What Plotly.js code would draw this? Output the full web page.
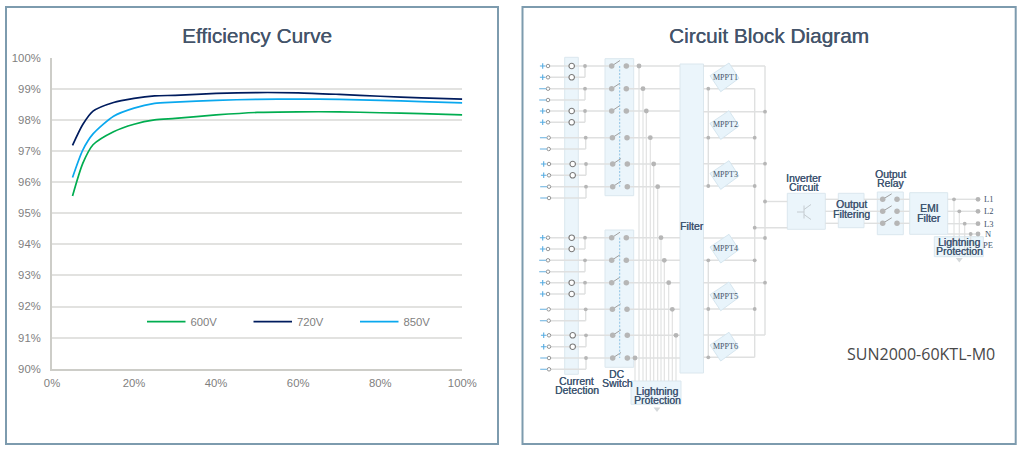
<!DOCTYPE html>
<html>
<head>
<meta charset="utf-8">
<script src="https://cdn.plot.ly/plotly-3.0.1.min.js"></script>
<style>html,body{margin:0;padding:0;background:#fff}#c{width:1022px;height:449px}</style>
</head>
<body>
<div id="c"></div>
<script>
// ---------- Efficiency curve data ----------
const loadPct = [5, 7.5, 10, 15, 20, 25, 30, 40, 50, 60, 70, 80, 90, 100];
const v600 = [95.55, 96.6, 97.2, 97.62, 97.86, 98.0, 98.05, 98.16, 98.24, 98.26, 98.26, 98.23, 98.2, 98.16];
const v720 = [97.18, 97.85, 98.28, 98.56, 98.69, 98.77, 98.79, 98.85, 98.88, 98.87, 98.82, 98.76, 98.71, 98.67];
const v850 = [96.15, 97.03, 97.55, 98.12, 98.38, 98.53, 98.57, 98.63, 98.66, 98.67, 98.66, 98.63, 98.59, 98.55];
const seriesNames = ['600V', '720V', '850V'];
const seriesColors = ['#00ad50', '#001c5e', '#0aa8ee'];
const xTickVals = [0, 20, 40, 60, 80, 100];
const xTickText = ['0%', '20%', '40%', '60%', '80%', '100%'];
const panelTitles = ['Efficiency Curve', 'Circuit Block Diagram'];
const modelName = 'SUN2000-60KTL-M0';

// ---------- Circuit diagram layout (page pixel space) ----------
const W = 1022, H = 449;
const rowY = [66,77.3,88.7,100,111,122.3,137.7,149,164,175.3,186.7,198,
              237.7,249,260.3,271.7,282.7,294,309.3,320.7,335.3,346.7,358,369.3];
const rowDx = [0,0,0,0,0,0,.7,.7,1,1,1,1, 0,0,0,0,0,0,.7,.7,1,1,1,1];
const rowPlus = [1,1,0,0,1,1,0,0,1,1,0,0, 1,1,0,0,1,1,0,0,1,1,0,0];
const busX = [639,643,646.3,650.3,653.7,657.7,661,664.3,668.7,672.3,676,635];
const busBottom = 381;
const mpptOffsets = [0,47.7,97.7,171.3,219,269.3];
const mpptNames = ['MPPT1','MPPT2','MPPT3','MPPT4','MPPT5','MPPT6'];
const hubTop = [66,111.7,163.7,238,282.7,335];
const hubBottom = [88.7,137.7,186,260.3,309,357.3];
const outY = [199.3,211.3,223.3];
const gridLabels = ['L1','L2','L3','N','PE'];
const gridY = [199.3,211.3,223.7,234,245];
const gridJoinX = [954,959.3,964.7,970.7,976];

const wires = [], thin = [], blades = [];
const dotsBig = [], dotsMid = [], dotsSmall = [], openTerm = [], openSensor = [];
const seg = (a,x1,y1,x2,y2) => a.push([x1,y1,x2,y2]);

rowY.forEach((y,i) => {
  const d = rowDx[i], even = i%2===0, n = Math.floor(i/2);
  openTerm.push([548+d,y]);
  if (rowPlus[i]) openSensor.push([571.7+d,y]);
  if (even) {
    seg(wires,548+d,y,611.7+d,y);
    dotsSmall.push([585+d,y]);
    dotsBig.push([611.7+d,y],[626.3+d,y]);
    seg(blades,611.7+d,y,620+d,y-5.5);
    const bx = busX[n];
    seg(wires,626.3+d,y,680,y);
    dotsMid.push([bx,y]);
    seg(thin,bx,y,bx,busBottom);
  } else {
    seg(wires,548+d,y,585+d,y);
    seg(wires,585+d,y,585+d,rowY[i-1]);
  }
});
// MPPT wiring
hubTop.forEach(y => seg(wires,703.5,y,765,y));
hubBottom.forEach(y => seg(wires,703.5,y,754.7,y));
seg(wires,765,66,765,335);
seg(wires,754.7,88.7,754.7,357.3);
seg(wires,708.3,88.7,708.3,186);
seg(wires,708.3,260.3,708.3,357.3);
hubBottom.forEach((y,i) => { dotsSmall.push([708.3,y]); if (i>0 && i<5) dotsSmall.push([754.7,y]); });
[111.7,163.7,201.5,238,282.7].forEach(y => dotsSmall.push([765,y]));
dotsSmall.push([754.7,227.7]);
seg(wires,765,201.5,787.3,201.5);
seg(wires,754.7,227.7,787.3,227.7);
// output stages
outY.forEach(y => {
  seg(wires,825.3,y,838.3,y);
  seg(wires,864,y,882.7,y);
  seg(wires,897,y,909.7,y);
  dotsBig.push([882.7,y],[897,y]);
  seg(blades,882.7,y,891.7,y-5.5);
});
gridLabels.forEach((l,i) => {
  const y = gridY[i], jx = gridJoinX[i];
  if (i<4) { seg(wires,947.7,y,978,y); dotsSmall.push([jx,y]); seg(thin,jx,y,jx,256); dotsMid.push([978,y]); }
});
const transistor = [[797,212,804,212],[804,205.5,804,218.5],[804,209.5,811,204.5],[804,214.5,811,219.5]];

const boxes = [
  [564.7,57.3,578.3,374.3],[605,58.7,633.7,195.7],[605,230,633.7,367.3],
  [631,381,681,404.3],[680,64,703.5,373],
  [787.3,193.3,825.3,229.3],[838.3,193.3,864,227.7],[877.3,192,903.3,234.7],
  [909.7,192.7,947.7,234.3],[934.3,236.7,983.3,256.7]
];
const labels = [
  ['Current',576.7,381],['Detection',576.7,390],
  ['DC',617,374],['Switch',617,383],
  ['Lightning',657,391],['Protection',657,400.5],
  ['Filter',692,226],
  ['Inverter',804,178],['Circuit',804,187],
  ['Output',851.7,204],['Filtering',851.7,214],
  ['Output',890,174],['Relay',890,183.3],
  ['EMI',929,208],['Filter',929,218],
  ['Lightning',959,242],['Protection',959,251.7]
];
const grounds = [[657,409],[959.3,259.5]];

const xyOf = list => { const x=[],y=[]; list.forEach(s=>{x.push(s[0],s[2],null);y.push(s[1],s[3],null);}); return {x,y}; };
const lineTrace = (list,color,width,dash) => Object.assign(xyOf(list),
  {type:'scatter',mode:'lines',xaxis:'x2',yaxis:'y2',showlegend:false,hoverinfo:'skip',
   line:{color,width,dash:dash||'solid'}});
const markTrace = (pts,marker) => ({type:'scatter',mode:'markers',xaxis:'x2',yaxis:'y2',showlegend:false,hoverinfo:'skip',
   x:pts.map(p=>p[0]),y:pts.map(p=>p[1]),marker});

const chartTraces = [v600,v720,v850].map((v,i)=>({
  type:'scatter',mode:'lines',name:seriesNames[i],x:loadPct,y:v,xaxis:'x',yaxis:'y',
  line:{color:seriesColors[i],width:1.7,shape:'spline',smoothing:0.7},hoverinfo:'skip'
}));

const plusPts = rowY.map((y,i)=>[542.7+rowDx[i],y]).filter((p,i)=>rowPlus[i]);
const minusPts = rowY.map((y,i)=>[542.7+rowDx[i],y]).filter((p,i)=>!rowPlus[i]);

const diagramTraces = [
  lineTrace(wires,'#dfe0e0',1.4),
  lineTrace(thin,'#dfe0e0',1.1),
  lineTrace(blades,'#a0a0a0',1),
  lineTrace(transistor,'#c4cbd0',1),
  lineTrace([[619.7,66,619.7,186.7],[619.7,237.7,619.7,358]],'#8fc3e4',1,'2px,1.5px'),
  markTrace(dotsBig,{size:5.5,color:'#b6b6b6'}),
  markTrace(dotsMid,{size:4.8,color:'#b6b6b6'}),
  markTrace(dotsSmall,{size:3.8,color:'#b6b6b6'}),
  markTrace(openTerm,{size:3.5,color:'#fff',line:{color:'#8a8a8a',width:.9}}),
  markTrace(openSensor,{size:5.5,color:'#fff',line:{color:'#7a7a7a',width:1.1}}),
  markTrace(plusPts,{size:4,symbol:'cross-thin',line:{color:'#58ade2',width:1.1}}),
  markTrace(minusPts,{size:5,symbol:'line-ew',line:{color:'#7fbde4',width:1.2}}),
  markTrace(grounds,{size:6,symbol:'triangle-down',color:'#d4d8da'})
];

const shapes = [
  {type:'rect',xref:'paper',yref:'paper',x0:6/W,x1:498/W,y0:1-7/H,y1:1-444/H,line:{color:'#7d9bae',width:2},layer:'below'},
  {type:'rect',xref:'paper',yref:'paper',x0:522.5/W,x1:1015.7/W,y0:1-7/H,y1:1-444/H,line:{color:'#7d9bae',width:2},layer:'below'}
];
boxes.forEach(b => shapes.push({type:'rect',xref:'x2',yref:'y2',x0:b[0],y0:b[1],x1:b[2],y1:b[3],
  fillcolor:'#ebf5fb',line:{color:'#dbe7ee',width:1},layer:'below'}));
mpptOffsets.forEach(o => {
  const p = [[729,63+o],[739,78.3+o],[720.7,91.7+o],[710,75.7+o]];
  shapes.push({type:'path',xref:'x2',yref:'y2',
    path:'M'+p.map(q=>q[0]+','+q[1]).join('L')+'Z',
    fillcolor:'#e8f4fb',line:{color:'#d6e6ef',width:1},layer:'above'});
});

const txt = (text,x,y,size,color,family,shadow) => ({text,x,y,xref:'x2',yref:'y2',showarrow:false,
  xanchor:'center',yanchor:'middle',font:{size,color,family,shadow:shadow||'none'}});
const SANS = 'Liberation Sans, Arial, sans-serif', SERIF = 'Liberation Serif, serif';
const annotations = [
  txt(panelTitles[0],257,35,20.8,'#44546a',SANS,'0.35px 0 0.5px #44546a'),
  txt(panelTitles[1],769,35,20.8,'#44546a',SANS,'0.35px 0 0.5px #44546a'),
  txt(modelName,921,354,16,'#484848','Open Sans, sans-serif')
];
labels.forEach(l => annotations.push(txt(l[0],l[1],l[2],10.4,'#3e5470',SANS,'0.3px 0 0.4px #3e5470')));
mpptNames.forEach((n,i) => annotations.push(txt(n,725.5,77+mpptOffsets[i],8,'#44546a',SERIF)));
gridLabels.forEach((l,i) => annotations.push(txt(l,988,gridY[i],8.5,'#44546a',SERIF)));

const layout = {
  width:W,height:H,margin:{l:0,r:0,t:0,b:0},paper_bgcolor:'#fff',plot_bgcolor:'rgba(0,0,0,0)',
  showlegend:true,
  legend:{orientation:'h',x:142/W,xanchor:'left',y:1-321.7/H,yanchor:'middle',bgcolor:'rgba(0,0,0,0)',
    itemwidth:38.5,entrywidth:53,entrywidthmode:'pixels',font:{size:11.3,color:'#7f7f7f',family:SANS},traceorder:'normal'},
  xaxis:{domain:[52/W,462.3/W],range:[0,100],tickmode:'array',tickvals:xTickVals,ticktext:xTickText,
    showgrid:false,zeroline:false,showline:true,linecolor:'#cdcdc8',linewidth:2,ticks:'',ticklabelstandoff:3,
    tickfont:{size:11.3,color:'#7f7f7f',family:SANS},anchor:'y',fixedrange:true},
  yaxis:{domain:[1-368.7/H,1-57.7/H],range:[90,100],dtick:1,ticksuffix:'%',
    showgrid:true,gridcolor:'#e2e2e0',gridwidth:2,zeroline:false,showline:true,linecolor:'#cdcdc8',linewidth:2,ticks:'',ticklabelstandoff:7,
    tickfont:{size:11.3,color:'#7f7f7f',family:SANS},anchor:'x',fixedrange:true},
  xaxis2:{domain:[0,1],range:[0,W],visible:false,anchor:'y2',fixedrange:true},
  yaxis2:{domain:[0,1],range:[H,0],visible:false,anchor:'x2',fixedrange:true},
  shapes,annotations
};
Plotly.newPlot('c',chartTraces.concat(diagramTraces),layout,{displayModeBar:false,staticPlot:true});
</script>
</body>
</html>
